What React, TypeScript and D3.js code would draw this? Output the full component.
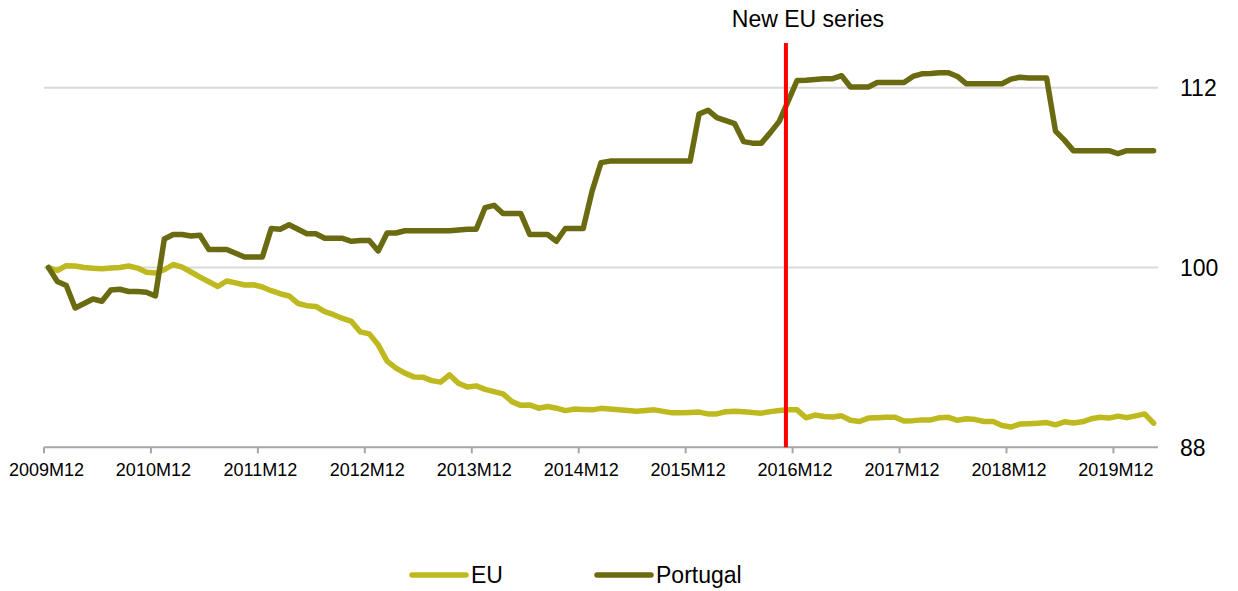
import React, { useEffect, useRef } from 'react';
import * as d3 from 'd3';

// monthly categories 2009M12 .. 2020M04
const startYear = 2009;
const startMonth = 12;
const monthCount = 125;

const months: string[] = Array.from({ length: monthCount }, (_, i) => {
  const m0 = startMonth - 1 + i;
  return `${startYear + Math.floor(m0 / 12)}M${(m0 % 12) + 1}`;
});

const tickLabels = [
  '2009M12', '2010M12', '2011M12', '2012M12', '2013M12', '2014M12',
  '2015M12', '2016M12', '2017M12', '2018M12', '2019M12',
];

const yTicks = [88, 100, 112];

const euValues = [
  100.0, 99.8, 100.12, 100.1, 100.0, 99.95, 99.92, 99.97, 100.0, 100.1, 99.96, 99.68,
  99.63, 99.85, 100.2, 100.03, 99.7, 99.36, 99.05, 98.73, 99.1, 98.97, 98.83, 98.85,
  98.7, 98.45, 98.25, 98.1, 97.6, 97.45, 97.4, 97.05, 96.85, 96.6, 96.4, 95.7,
  95.57, 94.84, 93.75, 93.28, 92.95, 92.7, 92.68, 92.45, 92.35, 92.84, 92.28, 92.02,
  92.1, 91.87, 91.72, 91.57, 91.05, 90.8, 90.83, 90.61, 90.72, 90.61, 90.45, 90.55,
  90.52, 90.5, 90.6, 90.55, 90.5, 90.45, 90.4, 90.45, 90.5, 90.4, 90.3, 90.3,
  90.33, 90.35, 90.23, 90.23, 90.38, 90.4, 90.38, 90.32, 90.28, 90.38, 90.45, 90.5,
  90.5, 89.97, 90.15, 90.05, 90.02, 90.1, 89.8, 89.72, 89.95, 89.98, 90.0, 90.01,
  89.75, 89.78, 89.83, 89.83, 89.98, 90.0, 89.8, 89.9, 89.85, 89.72, 89.72, 89.45,
  89.35, 89.55, 89.57, 89.6, 89.65, 89.5, 89.7, 89.62, 89.7, 89.9, 90.0, 89.95,
  90.08, 89.98, 90.1, 90.23, 89.61,
];

const portugalValues = [
  100.0, 99.07, 98.8, 97.3, 97.6, 97.9, 97.75, 98.5, 98.55, 98.4, 98.4, 98.35,
  98.1, 101.9, 102.2, 102.2, 102.1, 102.15, 101.2, 101.2, 101.2, 100.95, 100.7, 100.7,
  100.7, 102.6, 102.55, 102.85, 102.55, 102.25, 102.25, 101.95, 101.95, 101.95, 101.75, 101.8,
  101.8, 101.1, 102.3, 102.3, 102.45, 102.45, 102.45, 102.45, 102.45, 102.45, 102.5, 102.55,
  102.55, 104.0, 104.15, 103.6, 103.6, 103.6, 102.2, 102.2, 102.2, 101.75, 102.6, 102.6,
  102.6, 105.1, 107.0, 107.1, 107.1, 107.1, 107.1, 107.1, 107.1, 107.1, 107.1, 107.1,
  107.1, 110.25, 110.5, 110.0, 109.8, 109.6, 108.4, 108.3, 108.3, 109.0, 109.75, 111.1,
  112.48, 112.5, 112.55, 112.6, 112.6, 112.8, 112.05, 112.05, 112.05, 112.35, 112.35, 112.35,
  112.35, 112.75, 112.93, 112.95, 113.0, 113.0, 112.75, 112.26, 112.26, 112.26, 112.26, 112.26,
  112.57, 112.7, 112.65, 112.65, 112.65, 109.1, 108.5, 107.8, 107.8, 107.8, 107.8, 107.8,
  107.6, 107.8, 107.8, 107.8, 107.8,
];

const breakMonth = '2016M11';
const breakLabel = 'New EU series';

const series = [
  { name: 'EU', values: euValues, color: '#BDB91F' },
  { name: 'Portugal', values: portugalValues, color: '#6A6A10' },
];

const WIDTH = 1238;
const HEIGHT = 591;
const FONT = '"Liberation Sans", Arial, sans-serif';

export default function App() {
  const svgRef = useRef<SVGSVGElement>(null);

  useEffect(() => {
    if (!svgRef.current) return;
    const svg = d3.select(svgRef.current);
    svg.selectAll('*').remove();

    const x = d3.scaleBand<string>().domain(months).range([44, 1158]).padding(0);
    const bw = x.bandwidth();
    const cx = (m: string) => (x(m) as number) + bw / 2;

    const y = d3.scaleLinear().domain([88, 112]).range([447.3, 87.7]);

    // gridlines
    svg.append('g')
      .selectAll('line')
      .data(yTicks.filter(t => t !== 88))
      .enter().append('line')
      .attr('x1', 44)
      .attr('x2', 1158)
      .attr('y1', d => y(d))
      .attr('y2', d => y(d))
      .attr('stroke', '#D9D9D9')
      .attr('stroke-width', 2);

    // bottom axis
    svg.append('line')
      .attr('x1', 44).attr('x2', 1158)
      .attr('y1', y(88)).attr('y2', y(88))
      .attr('stroke', '#A6A6A6')
      .attr('stroke-width', 2);

    const ticks = svg.append('g');
    ticks.selectAll('line')
      .data(tickLabels)
      .enter().append('line')
      .attr('x1', d => x(d) as number)
      .attr('x2', d => x(d) as number)
      .attr('y1', y(88))
      .attr('y2', y(88) + 6)
      .attr('stroke', '#A6A6A6')
      .attr('stroke-width', 2);

    ticks.selectAll('text')
      .data(tickLabels)
      .enter().append('text')
      .attr('x', d => cx(d) - 2)
      .attr('y', 476)
      .attr('text-anchor', 'middle')
      .style('font-family', FONT)
      .style('font-size', '18px')
      .attr('fill', '#000')
      .text(d => d);

    // right y labels
    svg.append('g')
      .selectAll('text')
      .data(yTicks)
      .enter().append('text')
      .attr('x', 1180)
      .attr('y', d => y(d))
      .attr('dy', '0.36em')
      .style('font-family', FONT)
      .style('font-size', '23px')
      .attr('fill', '#000')
      .text(d => d);

    // lines
    const line = d3.line<number>()
      .x((_, i) => cx(months[i]))
      .y(d => y(d));

    series.forEach(s => {
      svg.append('path')
        .datum(s.values)
        .attr('fill', 'none')
        .attr('stroke', s.color)
        .attr('stroke-width', 5.5)
        .attr('stroke-linejoin', 'round')
        .attr('stroke-linecap', 'round')
        .attr('d', line);
    });

    // break marker
    const bx = (x(breakMonth) as number) + bw * 0.25;
    svg.append('line')
      .attr('x1', bx).attr('x2', bx)
      .attr('y1', 43).attr('y2', y(88))
      .attr('stroke', '#FF0000')
      .attr('stroke-width', 4);

    svg.append('text')
      .attr('x', bx + 22)
      .attr('y', 27)
      .attr('text-anchor', 'middle')
      .style('font-family', FONT)
      .style('font-size', '23px')
      .attr('fill', '#000')
      .text(breakLabel);

    // legend
    const legendX = [412, 597];
    const legend = svg.append('g')
      .selectAll('g')
      .data(series)
      .enter().append('g')
      .attr('transform', (_, i) => `translate(${legendX[i]},575)`);

    legend.append('line')
      .attr('x1', 0).attr('x2', 54)
      .attr('y1', 0).attr('y2', 0)
      .attr('stroke', d => d.color)
      .attr('stroke-width', 5.5)
      .attr('stroke-linecap', 'round');

    legend.append('text')
      .attr('x', 59)
      .attr('y', 8)
      .style('font-family', FONT)
      .style('font-size', '23px')
      .attr('fill', '#000')
      .text(d => d.name);
  }, []);

  return (
    <svg
      ref={svgRef}
      width={WIDTH}
      height={HEIGHT}
      style={{ position: 'absolute', left: 0, top: 0, background: '#fff' }}
    />
  );
}
